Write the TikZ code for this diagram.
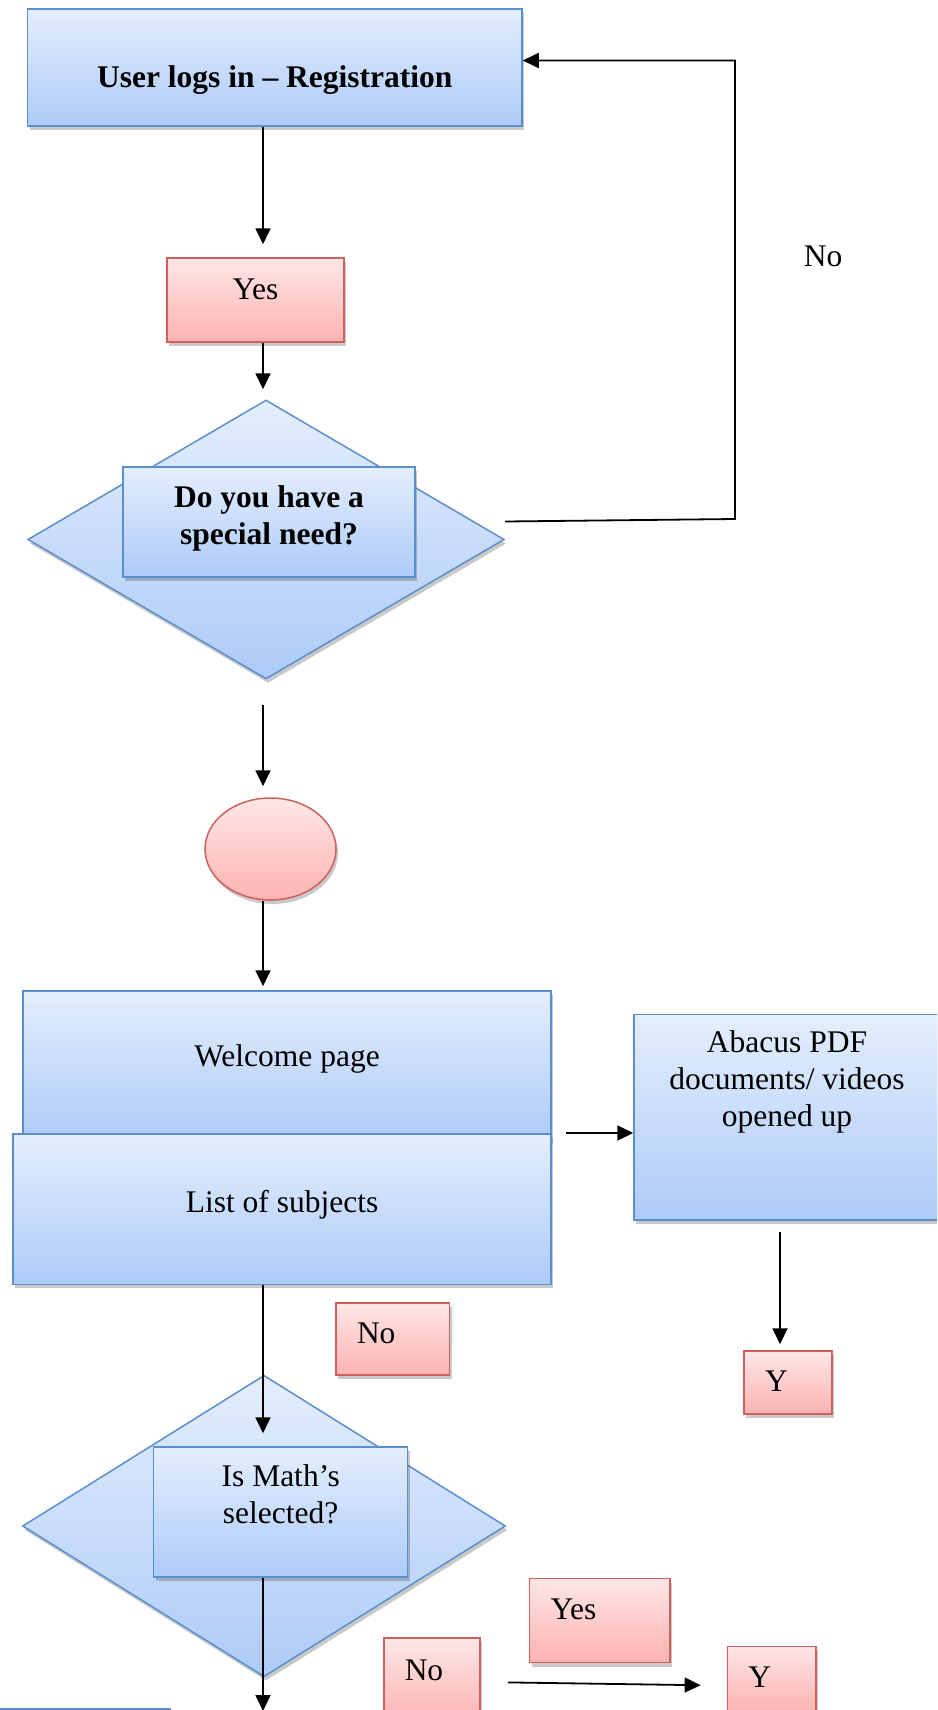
\documentclass[tikz,border=0pt]{standalone}
\usepackage{fontspec}
\setmainfont{Liberation Serif}
\usetikzlibrary{arrows.meta,shapes.geometric,shadows}

\definecolor{bluetop}{HTML}{E4EEFD}
\definecolor{bluebot}{HTML}{ADCBF8}
\definecolor{blueline}{HTML}{5B8FCB}
\definecolor{pinktop}{HTML}{FFE7E7}
\definecolor{pinkbot}{HTML}{FDB3B1}
\definecolor{pinkline}{HTML}{D0605C}

\newcommand{\bigtext}{\fontsize{31.5}{37}\selectfont}

\tikzset{
  every node/.style={font=\bigtext},
  dropsh/.style={drop shadow={shadow xshift=2pt,shadow yshift=-4pt,opacity=.3,fill=black!70}},
  bluebox/.style={draw=blueline, line width=1.5pt, top color=bluetop, bottom color=bluebot, dropsh, inner sep=0pt, align=center},
  pinkbox/.style={draw=pinkline, line width=1.5pt, top color=pinktop, bottom color=pinkbot, dropsh, inner sep=0pt, align=center},
  tag/.style={pinkbox, align=left, inner xsep=21pt, text height=22pt},
  arr/.style={line width=1.8pt, -{Triangle[length=16pt,width=15pt]}}
}

\begin{document}
\begin{tikzpicture}[x=1pt,y=-1pt]
  \useasboundingbox (0,0) rectangle (937,1710);
  \clip (0,0) rectangle (937,1710);

  \coordinate (spine) at (263,0);
  \coordinate (chute) at (780,0);
  \coordinate (turn) at (735,519);
  \coordinate (exit) at (263,1711);

  \node[bluebox, minimum width=494.5, minimum height=117, font=\bigtext\bfseries,
        text height=46pt, text depth=7pt] (login) at (274.75,67.5) {User logs in \textendash{} Registration};
  \node[pinkbox, minimum width=177, minimum height=84, text height=22pt, text depth=24pt] (yes) at (255.5,300) {Yes};

  \node[bluebox, diamond, minimum width=476.5, minimum height=279] (q1) at (266,539.5) {};
  \node[bluebox, minimum width=292, minimum height=110, font=\bigtext\bfseries, text depth=13pt] (need) at (269,522) {Do you have a\\special need?};

  \node[pinkbox, ellipse, minimum width=131, minimum height=102] (oval) at (270.5,849) {};

  \node[bluebox, minimum width=528, minimum height=149, text height=22pt, text depth=21pt] (welcome) at (287,1065.5) {Welcome page};
  \node[bluebox, minimum width=538, minimum height=150.5, text height=22pt, text depth=16pt] (list) at (282,1209) {List of subjects};
  \node[bluebox, minimum width=306, minimum height=205.5, text depth=76pt] (abacus) at (787,1117) {Abacus PDF\\documents/ videos\\opened up};

  \node[tag, text width=71.5pt, minimum height=72, text depth=13pt] (notag) at (392.75,1339) {No};
  \node[tag, text width=46pt, minimum height=63, text depth=5pt] (yone) at (788,1382.5) {Y};

  \node[bluebox, diamond, minimum width=483, minimum height=301.5] (q2) at (264,1526) {};
  \node[bluebox, minimum width=254, minimum height=130, text depth=35pt] (mathq) at (280.7,1512) {Is Math’s\\selected?};

  \node[tag, text width=98.4pt, minimum height=84, text depth=25pt] (yestwo) at (599.8,1620.6) {Yes};
  \node[tag, text width=54.3pt, minimum height=84, text depth=22pt] (notwo) at (431.9,1680) {No};
  \node[tag, text width=46.6pt, minimum height=64, text depth=5pt] (ytwo) at (771.7,1678.6) {Y};
  \node[bluebox, minimum width=190, minimum height=60, anchor=north west] (nextbox) at (-21,1708) {};

  \node[anchor=base] (nolabel) at (823,266) {No};

  % connectors
  \draw[arr, shorten >=13pt] (login.south -| spine) -- (yes.north -| spine);
  \draw[arr, shorten >=10pt] (yes.south -| spine) -- (q1.north -| spine);
  \draw[arr] ([yshift=18pt]q1.east) -- (turn) |- ([yshift=7pt]login.east);
  \draw[arr, shorten <=25pt, shorten >=11pt] (q1.south -| spine) -- (oval.north -| spine);
  \draw[arr, shorten >=4pt] (oval.south -| spine) -- (welcome.north -| spine);
  \draw[arr, shorten <=14pt] (list.north east) -- (list.north east -| abacus.west);
  \draw[arr, shorten <=11pt, shorten >=6pt] (abacus.south -| chute) -- (yone.north -| chute);
  \draw[arr, shorten >=13pt] (list.south -| spine) -- (mathq.north -| spine);
  \draw[arr] (mathq.south -| spine) -- (exit);
  \draw[arr, shorten <=27pt, shorten >=26pt] ([yshift=-2pt]notwo.east) -- ([yshift=-7pt]ytwo.west);
\end{tikzpicture}
\end{document}
